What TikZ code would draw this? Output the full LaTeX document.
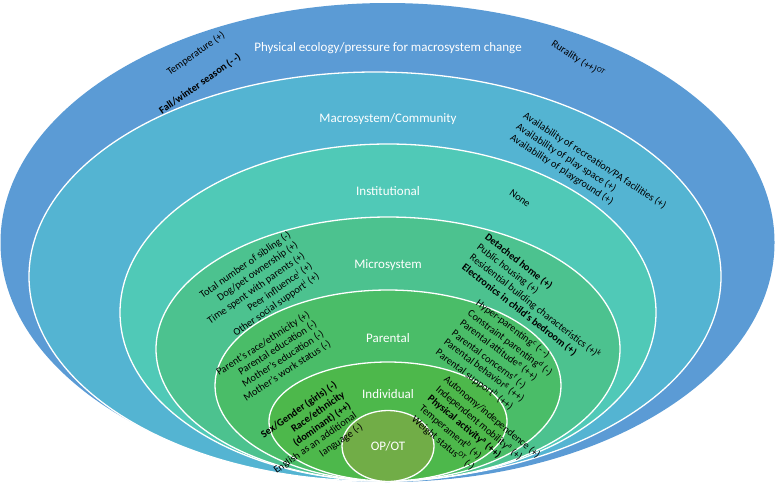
\documentclass[tikz,border=0pt]{standalone}
\usepackage{fontspec}
\setmainfont{Carlito}
\definecolor{cOuter}{HTML}{5B9BD5}
\definecolor{cMacro}{HTML}{54B4D2}
\definecolor{cInst}{HTML}{50C9B7}
\definecolor{cMicro}{HTML}{4CC28F}
\definecolor{cPar}{HTML}{4ABD68}
\definecolor{cInd}{HTML}{4DB84B}
\definecolor{cOP}{HTML}{71AD47}
\tikzset{
  ring/.style={draw=white, line width=1.3pt},
  biglabel/.style={text=white, inner sep=0pt, font=\fontsize{13}{15.6}\selectfont},
  fact/.style={text=black, inner sep=0pt, font=\fontsize{10.4}{12.4}\selectfont},
  upL/.style={fact, anchor=east, rotate=35},
  dnR/.style={fact, anchor=west, rotate=-38}
}
\begin{document}
\begin{tikzpicture}[x=1pt,y=-1pt]
\useasboundingbox (0,0) rectangle (775,482);
% rings
\fill[cOuter] (387.5,242.5) ellipse [x radius=387pt, y radius=239.5pt];
\filldraw[ring, fill=cMacro] (375,276.5) ellipse [x radius=346pt, y radius=204.5pt];
\filldraw[ring, fill=cInst] (388,312.5) ellipse [x radius=268pt, y radius=168.5pt];
\filldraw[ring, fill=cMicro] (388,349) ellipse [x radius=232pt, y radius=132pt];
\filldraw[ring, fill=cPar] (388,385.5) ellipse [x radius=173pt, y radius=95.5pt];
\filldraw[ring, fill=cInd] (388,421.5) ellipse [x radius=119pt, y radius=59.5pt];
\filldraw[ring, fill=cOP] (388,446) ellipse [x radius=46pt, y radius=35.5pt];
% ring labels
\node[biglabel] (L1) at (388,48) {Physical ecology/pressure for macrosystem change};
\node[biglabel] (L2) at (388,119) {Macrosystem/Community};
\node[biglabel] (L3) at (388,191) {Institutional};
\node[biglabel] (L4) at (388,265) {Microsystem};
\node[biglabel] (L5) at (388,338) {Parental};
\node[biglabel] (L6) at (388,394) {Individual};
\node[biglabel] (L7) at (388,446) {OP/OT};
% physical ecology
\node[fact, rotate=35] (t1) at (196,54) {Temperature (+)};
\node[fact, rotate=35] (t2) at (200,84) {\textbf{Fall/winter season (-\,-)}};
\node[fact, rotate=-33] (t3) at (578,59) {Rurality (++)\textsuperscript{OT}};
% macrosystem
\node[fact, anchor=west, rotate=-33] (a1) at (524,115) {Availability of recreation/PA facilities (+)};
\node[fact, anchor=west, rotate=-33] (a2) at (517,126) {Availability of play space (+)};
\node[fact, anchor=west, rotate=-33] (a3) at (511,137) {Availability of playground (+)};
% institutional
\node[fact, rotate=-35] (n1) at (520,198) {None};
% microsystem left
\node[upL] (m1) at (290,234) {Total number of sibling (-)};
\node[upL] (m2) at (297,244) {Dog/pet ownership (+)};
\node[upL] (m3) at (304,255) {Time spent with parents (+)};
\node[upL] (m4) at (311,265) {Peer influence\textsuperscript{i} (+)};
\node[upL] (m5) at (318,275) {Other social support\textsuperscript{i} (+)};
% microsystem right
\node[dnR] (r1) at (486,236) {\textbf{Detached home (+)}};
\node[dnR] (r2) at (478,246) {Public housing (+)};
\node[dnR] (r3) at (471,256) {Residential building characteristics (+)\textsuperscript{k}};
\node[dnR] (r4) at (463,266) {\textbf{Electronics in child’s bedroom (+)}};
% parental left
\node[upL, rotate=-2] (p1) at (309,314) {Parent’s race/ethnicity (+)};
\node[upL, rotate=-2] (p2) at (316,323) {Parental education (-)};
\node[upL, rotate=-2] (p3) at (323,333) {Mother’s education (-)};
\node[upL, rotate=-2] (p4) at (330,343) {Mother’s work status (-)};
% parental right
\node[dnR, rotate=1] (q1) at (477,302) {Hyper-parenting\textsuperscript{c} (-\,-)};
\node[dnR, rotate=1] (q2) at (469,312) {Constraint parenting\textsuperscript{d} (-)};
\node[dnR, rotate=1] (q3) at (461,322) {Parental attitude\textsuperscript{e} (++)};
\node[dnR, rotate=1] (q4) at (453,332) {Parental concerns\textsuperscript{f} (-)};
\node[dnR, rotate=1] (q5) at (445,341) {Parental behavior\textsuperscript{g} (++)};
\node[dnR, rotate=1] (q6) at (437,351) {Parental support\textsuperscript{h} (++)};
% individual left
\node[upL] (i1) at (336,384) {\textbf{Sex/Gender (girls) (-)}};
\node[upL] (i2) at (344,394) {\textbf{Race/ethnicity}};
\node[upL] (i3) at (350,405) {\textbf{(dominant) (++)}};
\node[upL] (i4) at (356,415) {English as an additional};
\node[upL] (i5) at (362,426) {language (-)};
% individual right
\node[dnR, rotate=-2] (j1) at (445,378) {Autonomy/independence (+)};
\node[dnR, rotate=-2] (j2) at (437,388) {Independent mobility\textsuperscript{a} (+)};
\node[dnR, rotate=-2] (j3) at (429,397) {\textbf{Physical activity\textsuperscript{a} (++)}};
\node[dnR, rotate=-2] (j4) at (421,407) {Temperament\textsuperscript{b} (+)};
\node[dnR, rotate=-2] (j5) at (413,418) {Weight status\textsuperscript{OT} (-)};
\end{tikzpicture}
\end{document}
